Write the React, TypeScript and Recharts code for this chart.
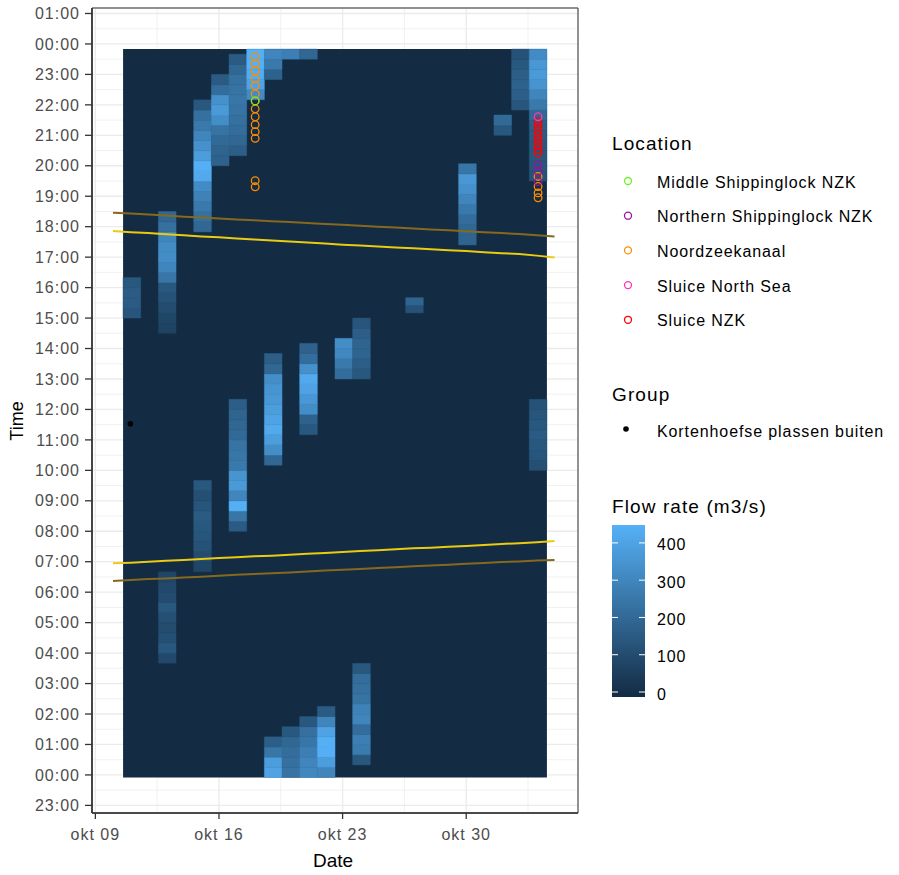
import React from 'react';
import {
  ComposedChart, XAxis, YAxis, CartesianGrid, ReferenceArea, Line, Scatter,
} from 'recharts';

const FONT = '"Liberation Sans", Arial, sans-serif';

// x = day of October (nov 03 = 34), y = hour of day
const xTicks = [9, 16, 23, 30];
const xMinorTicks = [12.5, 19.5, 26.5, 33.5];
const yTicks = [-1, 0, 1, 2, 3, 4, 5, 6, 7, 8, 9, 10, 11, 12, 13, 14, 15, 16, 17, 18, 19, 20, 21, 22, 23, 24, 25];
const yMinorTicks = [-0.5, 0.5, 1.5, 2.5, 3.5, 4.5, 5.5, 6.5, 7.5, 8.5, 9.5, 10.5, 11.5, 12.5, 13.5, 14.5, 15.5, 16.5, 17.5, 18.5, 19.5, 20.5, 21.5, 22.5, 23.5, 24.5];

const firstDay = 11;
const lastDay = 34;
const dayStart = -0.083;
const dayEnd = 23.83;

// flow rate (m3/s) in 20 minute bins, starting at `from`
const flowRuns = [
  { day: 11, from: 15.0, flow: [140, 160, 165, 150] },
  { day: 13, from: 3.67, flow: [100, 150, 120, 110, 120, 150, 110, 100, 90] },
  { day: 13, from: 14.5, flow: [80, 90, 110, 130, 150, 250, 300, 330, 320, 300, 230, 200] },
  { day: 15, from: 6.67, flow: [90, 110, 130, 140, 150, 160, 140, 120, 150] },
  { day: 15, from: 17.83, flow: [200, 230, 260, 290, 320, 420, 440, 380, 340, 300, 260, 230, 150] },
  { day: 16, from: 20.0, flow: [180, 190, 210, 240, 330, 370, 340, 220, 160] },
  { day: 17, from: 8.0, flow: [160, 250, 440, 300, 370, 350, 260, 250, 240, 210, 200, 190, 170] },
  { day: 17, from: 20.33, flow: [170, 200, 220, 230, 240, 250, 240, 230, 200, 160] },
  { day: 18, from: 22.17, flow: [320, 400, 430, 445, 440] },
  { day: 19, from: -0.083, flow: [400, 380, 250, 170] },
  { day: 19, from: 10.17, flow: [200, 330, 380, 420, 400, 380, 360, 350, 330, 200, 170] },
  { day: 19, from: 22.83, flow: [180, 260, 300] },
  { day: 20, from: -0.083, flow: [240, 230, 220, 200, 150] },
  { day: 20, from: 23.5, flow: [280] },
  { day: 21, from: -0.083, flow: [310, 300, 280, 250, 230, 150] },
  { day: 21, from: 11.17, flow: [150, 180, 330, 360, 400, 420, 340, 220, 180] },
  { day: 21, from: 23.5, flow: [200] },
  { day: 22, from: -0.083, flow: [300, 380, 440, 440, 400, 300, 160] },
  { day: 23, from: 13.0, flow: [220, 260, 310, 330] },
  { day: 24, from: 0.33, flow: [150, 270, 280, 220, 300, 290, 240, 230, 220, 150] },
  { day: 24, from: 13.0, flow: [150, 170, 190, 190, 170, 140] },
  { day: 27, from: 15.17, step: 0.25, flow: [130, 190] },
  { day: 30, from: 17.4, flow: [190, 200, 220, 260, 300, 340, 360, 250] },
  { day: 32, from: 21.0, flow: [150, 210] },
  { day: 33, from: 21.83, flow: [140, 170, 180, 170, 150, 130] },
  { day: 34, from: 10.0, flow: [120, 140, 150, 160, 150, 140, 130] },
  { day: 34, from: 19.5, flow: [130, 140, 150, 150, 160, 170, 200, 260, 300, 350, 370, 360, 320] },
];
const flowMax = 448;
const flowLegendTicks = [0, 100, 200, 300, 400];

// sun times, one per day from okt 10 to nov 04
const sunDays = [10, 11, 12, 13, 14, 15, 16, 17, 18, 19, 20, 21, 22, 23, 24, 25, 26, 27, 28, 29, 30, 31, 32, 33, 34, 35];
const dawn = [6.37, 6.4, 6.43, 6.45, 6.48, 6.51, 6.54, 6.57, 6.6, 6.62, 6.65, 6.68, 6.71, 6.74, 6.76, 6.79, 6.82, 6.85, 6.88, 6.9, 6.93, 6.96, 6.99, 7.01, 7.04, 7.06];
const sunrise = [6.95, 6.97, 7.0, 7.03, 7.06, 7.09, 7.12, 7.15, 7.18, 7.2, 7.23, 7.26, 7.29, 7.32, 7.35, 7.38, 7.41, 7.44, 7.46, 7.49, 7.52, 7.55, 7.58, 7.61, 7.64, 7.68];
const sunset = [17.86, 17.82, 17.79, 17.75, 17.72, 17.68, 17.65, 17.61, 17.58, 17.55, 17.51, 17.48, 17.45, 17.41, 17.38, 17.35, 17.32, 17.29, 17.26, 17.23, 17.2, 17.16, 17.13, 17.1, 17.05, 16.99];
const dusk = [18.46, 18.43, 18.4, 18.37, 18.33, 18.3, 18.27, 18.24, 18.21, 18.18, 18.15, 18.12, 18.09, 18.06, 18.03, 18.0, 17.97, 17.94, 17.91, 17.88, 17.85, 17.82, 17.79, 17.76, 17.72, 17.68];

// observations per location
const noordzeekanaal = [
  { x: 18.05, y: 23.58 }, { x: 18.05, y: 23.35 }, { x: 18.05, y: 23.12 }, { x: 18.05, y: 22.86 },
  { x: 18.05, y: 22.63 }, { x: 18.05, y: 22.36 }, { x: 18.05, y: 22.13 }, { x: 18.05, y: 21.87 },
  { x: 18.05, y: 21.61 }, { x: 18.05, y: 21.35 }, { x: 18.05, y: 21.12 }, { x: 18.05, y: 20.9 },
  { x: 18.05, y: 19.51 }, { x: 18.05, y: 19.31 },
  { x: 34.07, y: 19.65 }, { x: 34.07, y: 19.32 }, { x: 34.07, y: 19.11 }, { x: 34.07, y: 18.95 },
];
const northernLock = [{ x: 34.07, y: 20.03 }, { x: 34.07, y: 19.81 }, { x: 34.07, y: 19.48 }];
const middleLock = [{ x: 18.05, y: 22.13 }];
const sluiceNzk = [
  { x: 34.07, y: 21.45 }, { x: 34.07, y: 21.3 }, { x: 34.07, y: 21.15 }, { x: 34.07, y: 21.0 },
  { x: 34.07, y: 20.85 }, { x: 34.07, y: 20.7 }, { x: 34.07, y: 20.55 }, { x: 34.07, y: 20.42 },
];
const sluiceNorthSea = [{ x: 34.07, y: 21.61 }];
const kortenhoefse = [{ x: 10.98, y: 11.53 }];

const locations = [
  { name: 'Middle Shippinglock NZK', color: '#6EF02A' },
  { name: 'Northern Shippinglock NZK', color: '#9A12A0' },
  { name: 'Noordzeekanaal', color: '#FF8C00' },
  { name: 'Sluice North Sea', color: '#FF36B0' },
  { name: 'Sluice NZK', color: '#FF0000' },
];

const LOW = [0x13, 0x2b, 0x43];
const HIGH = [0x56, 0xb1, 0xf7];

function flowColor(v: number): string {
  const t = Math.max(0, Math.min(1, v / flowMax));
  const c = LOW.map((l, i) => Math.round(l + (HIGH[i] - l) * t));
  return `rgb(${c[0]},${c[1]},${c[2]})`;
}

const pad = (n: number) => String(n).padStart(2, '0');
const fmtHour = (h: number) => `${pad(((h % 24) + 24) % 24)}:00`;
const fmtDay = (d: number) => `okt ${pad(d)}`;

const toSeries = (vals: number[]) => sunDays.map((d, i) => ({ x: d, y: vals[i] }));

const ring = (color: string) => (p: any) => (
  <circle cx={p.cx} cy={p.cy} r={3.8} fill="none" stroke={color} strokeWidth={1.3} />
);

const TILE_SHIFT = 0.07;

export default function App() {
  const tiles = flowRuns.flatMap((run, ri) => {
    const step = run.step ?? 1 / 3;
    return run.flow.map((v, i) => {
      const c = flowColor(v);
      return (
        <ReferenceArea
          key={`t${ri}-${i}`}
          x1={run.day - 0.5 + TILE_SHIFT}
          x2={run.day + 0.5 + TILE_SHIFT}
          y1={run.from + i * step}
          y2={Math.min(dayEnd, run.from + (i + 1) * step)}
          fill={c}
          fillOpacity={1}
          stroke={c}
          strokeWidth={0.5}
        />
      );
    });
  });

  const barTop = 525;
  const bar0 = 692;
  const barScale = (bar0 - barTop) / flowMax;

  return (
    <div style={{ position: 'absolute', left: 0, top: 0, width: 899, height: 875, background: '#fff' }}>
      <ComposedChart width={899} height={875} margin={{ top: 8, right: 321, bottom: 0, left: 0 }}>
        <CartesianGrid stroke="#EBEBEB" strokeWidth={0.7} verticalValues={xMinorTicks} horizontalValues={yMinorTicks} />
        <CartesianGrid stroke="#EBEBEB" strokeWidth={1.3} />
        <XAxis
          type="number"
          dataKey="x"
          domain={[8.81, 36.33]}
          allowDataOverflow
          ticks={xTicks}
          interval={0}
          tickFormatter={fmtDay}
          height={62}
          tickSize={6}
          tickMargin={10}
          tick={{ fill: '#4D4D4D', fontSize: 16, fontFamily: FONT, letterSpacing: 1 }}
          axisLine={{ stroke: '#333', strokeWidth: 1.6 }}
          tickLine={{ stroke: '#333', strokeWidth: 1.3 }}
        />
        <YAxis
          type="number"
          dataKey="y"
          domain={[-1.25, 25.18]}
          allowDataOverflow
          ticks={yTicks}
          interval={0}
          tickFormatter={fmtHour}
          width={92}
          tickSize={7}
          tickMargin={5}
          tick={{ fill: '#4D4D4D', fontSize: 16, fontFamily: FONT, letterSpacing: 1 }}
          axisLine={{ stroke: '#333', strokeWidth: 1.6 }}
          tickLine={{ stroke: '#333', strokeWidth: 1.3 }}
        />
        <ReferenceArea
          x1={firstDay - 0.5 + TILE_SHIFT}
          x2={lastDay + 0.5 + TILE_SHIFT}
          y1={dayStart}
          y2={dayEnd}
          fill={flowColor(0)}
          fillOpacity={1}
          stroke="none"
        />
        {tiles}
        <Line data={toSeries(dawn)} dataKey="y" type="linear" stroke="#86691E" strokeWidth={2} dot={false} activeDot={false} isAnimationActive={false} />
        <Line data={toSeries(sunrise)} dataKey="y" type="linear" stroke="#EBCB12" strokeWidth={2} dot={false} activeDot={false} isAnimationActive={false} />
        <Line data={toSeries(sunset)} dataKey="y" type="linear" stroke="#EBCB12" strokeWidth={2} dot={false} activeDot={false} isAnimationActive={false} />
        <Line data={toSeries(dusk)} dataKey="y" type="linear" stroke="#86691E" strokeWidth={2} dot={false} activeDot={false} isAnimationActive={false} />
        <Scatter data={noordzeekanaal} shape={ring('#FF8C00')} isAnimationActive={false} />
        <Scatter data={northernLock} shape={ring('#9A12A0')} isAnimationActive={false} />
        <Scatter data={middleLock} shape={ring('#6EF02A')} isAnimationActive={false} />
        <Scatter data={sluiceNzk} shape={ring('#FF0000')} isAnimationActive={false} />
        <Scatter data={sluiceNorthSea} shape={ring('#FF36B0')} isAnimationActive={false} />
        <Scatter
          data={kortenhoefse}
          shape={(p: any) => <circle cx={p.cx} cy={p.cy} r={2.8} fill="#000" />}
          isAnimationActive={false}
        />
        <ReferenceArea x1={8.81} x2={36.33} y1={-1.25} y2={25.18} fill="none" stroke="#333" strokeWidth={1} />
      </ComposedChart>

      <svg
        width={899}
        height={875}
        style={{ position: 'absolute', left: 0, top: 0, pointerEvents: 'none', fontFamily: FONT }}
      >
        <defs>
          <linearGradient id="flowGrad" x1="0" y1="1" x2="0" y2="0">
            <stop offset="0" stopColor={flowColor(0)} />
            <stop offset="1" stopColor={flowColor(flowMax)} />
          </linearGradient>
        </defs>
        <text x={333} y={860} textAnchor="middle" dominantBaseline="central" fontSize={19} fill="#000">Date</text>
        <text transform="translate(17,421) rotate(-90)" textAnchor="middle" dominantBaseline="central" fontSize={18} fill="#000">Time</text>

        <text x={612} y={143} dominantBaseline="central" fontSize={19} letterSpacing={1.1} fill="#000">Location</text>
        {locations.map((l, i) => (
          <g key={l.name}>
            <circle cx={628} cy={181 + i * 34.7} r={3.5} fill="none" stroke={l.color} strokeWidth={1.3} />
            <text x={657} y={182 + i * 34.7} dominantBaseline="central" fontSize={16} letterSpacing={0.9} fill="#000">{l.name}</text>
          </g>
        ))}

        <text x={612} y={394} dominantBaseline="central" fontSize={19} letterSpacing={1.1} fill="#000">Group</text>
        <circle cx={626} cy={429} r={2.8} fill="#000" />
        <text x={657} y={431} dominantBaseline="central" fontSize={16} letterSpacing={0.9} fill="#000">Kortenhoefse plassen buiten</text>

        <text x={612} y={506} dominantBaseline="central" fontSize={19} letterSpacing={1.1} fill="#000">Flow rate (m3/s)</text>
        <rect x={612} y={barTop} width={33} height={172} fill="url(#flowGrad)" />
        {flowLegendTicks.map((v) => {
          const y = bar0 - v * barScale;
          return (
            <g key={v}>
              <line x1={612} x2={618} y1={y} y2={y} stroke="#fff" strokeWidth={1} />
              <line x1={639} x2={645} y1={y} y2={y} stroke="#fff" strokeWidth={1} />
              <text x={657} y={y + 2} dominantBaseline="central" fontSize={16} letterSpacing={0.9} fill="#000">{v}</text>
            </g>
          );
        })}
      </svg>
    </div>
  );
}
